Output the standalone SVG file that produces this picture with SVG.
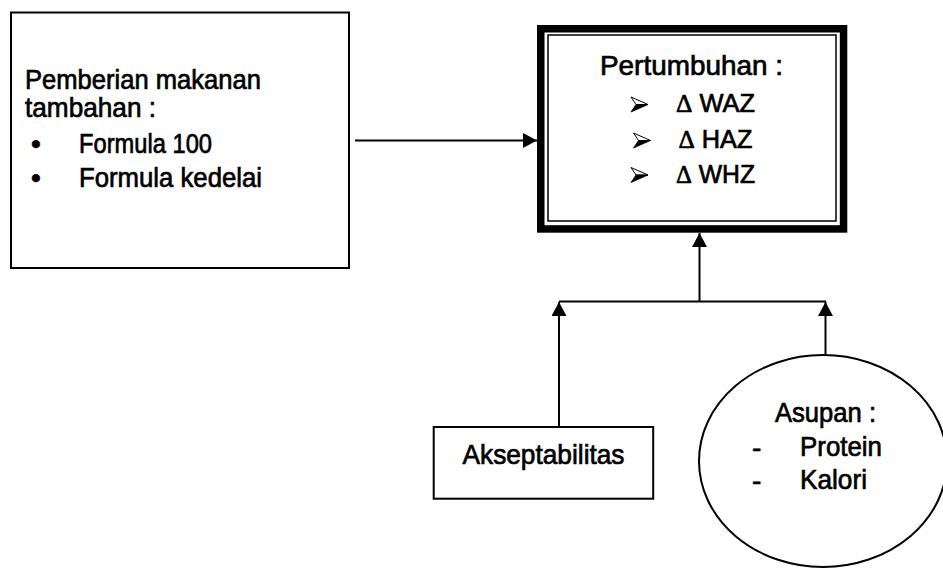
<svg xmlns="http://www.w3.org/2000/svg" width="943" height="568" viewBox="0 0 943 568">
  <style>
    .box { fill: #fff; stroke: #000; stroke-width: 2; }
    .txt { font-family: "Liberation Sans", Arial, sans-serif; font-size: 28px; fill: #000; stroke: #000; stroke-width: 0.7; }
    .row { font-size: 26px; }
    .sym { font-family: "Liberation Serif", "Times New Roman", serif; }
    .wire { fill: none; stroke: #000; stroke-width: 2; }
  </style>
  <defs>
    <marker id="tip" viewBox="0 0 14 15" refX="14" refY="7.5" markerWidth="14" markerHeight="15" markerUnits="userSpaceOnUse" orient="auto">
      <path d="M0,0 L14,7.5 L0,15 z" fill="#000"/>
    </marker>
    <!-- 3-D arrowhead list bullet: light upper facet, dark lower facet -->
    <g id="pointer">
      <path d="M0,0 L17,7.5 L5,7.5 z" fill="#fff" stroke="#000" stroke-width="1" stroke-linejoin="round"/>
      <path d="M5,7.5 L17,7.5 L0,15 z" fill="#000" stroke="#000" stroke-width="0.8" stroke-linejoin="round"/>
    </g>
  </defs>

  <rect width="943" height="568" fill="#fff"/>

  <!-- supplementary feeding -->
  <g id="pemberian">
    <rect class="box" x="11" y="12.5" width="338" height="255.5"/>
    <text class="txt" x="25" y="89" textLength="236" lengthAdjust="spacingAndGlyphs">Pemberian makanan</text>
    <text class="txt" x="25" y="117" textLength="131" lengthAdjust="spacingAndGlyphs">tambahan :</text>
    <text class="txt" x="31" y="153">•</text>
    <text class="txt" x="79" y="153" textLength="133" lengthAdjust="spacingAndGlyphs">Formula 100</text>
    <text class="txt" x="31" y="187">•</text>
    <text class="txt" x="79" y="187" textLength="183" lengthAdjust="spacingAndGlyphs">Formula kedelai</text>
  </g>

  <!-- growth outcomes (double border) -->
  <g id="pertumbuhan">
    <rect x="540.75" y="28.75" width="302.8" height="200.2" fill="#fff" stroke="#000" stroke-width="7.5"/>
    <rect x="548" y="35" width="288" height="186" fill="none" stroke="#000" stroke-width="1.5"/>
    <text class="txt" x="600" y="75" textLength="183" lengthAdjust="spacingAndGlyphs">Pertumbuhan :</text>
    <use href="#pointer" x="631" y="97"/>
    <text class="txt row" x="676" y="111.5" textLength="79" lengthAdjust="spacingAndGlyphs"><tspan class="sym">Δ</tspan> WAZ</text>
    <use href="#pointer" x="633.5" y="133"/>
    <text class="txt row" x="678.5" y="148" textLength="74" lengthAdjust="spacingAndGlyphs"><tspan class="sym">Δ</tspan> HAZ</text>
    <use href="#pointer" x="631" y="167.5"/>
    <text class="txt row" x="676" y="183" textLength="79" lengthAdjust="spacingAndGlyphs"><tspan class="sym">Δ</tspan> WHZ</text>
  </g>

  <!-- acceptability -->
  <g id="akseptabilitas">
    <rect class="box" x="433.7" y="427" width="219.5" height="71.7"/>
    <text class="txt" x="462.5" y="464" textLength="162" lengthAdjust="spacingAndGlyphs">Akseptabilitas</text>
  </g>

  <!-- intake -->
  <g id="asupan">
    <ellipse class="box" cx="823" cy="461" rx="124" ry="106"/>
    <text class="txt" x="775" y="422" textLength="101" lengthAdjust="spacingAndGlyphs">Asupan :</text>
    <text class="txt" x="752" y="457">-</text>
    <text class="txt" x="800" y="456" textLength="82" lengthAdjust="spacingAndGlyphs">Protein</text>
    <text class="txt" x="752" y="490">-</text>
    <text class="txt" x="800" y="489" textLength="67" lengthAdjust="spacingAndGlyphs">Kalori</text>
  </g>

  <!-- connectors -->
  <g id="connectors">
    <path class="wire" d="M355,140.5 H537" marker-end="url(#tip)"/>
    <path class="wire" d="M559,301.5 H826"/>
    <path class="wire" d="M699.5,301.5 V233" marker-end="url(#tip)"/>
    <path class="wire" d="M559,427 V302" marker-end="url(#tip)"/>
    <path class="wire" d="M825.5,355 V302" marker-end="url(#tip)"/>
  </g>
</svg>
